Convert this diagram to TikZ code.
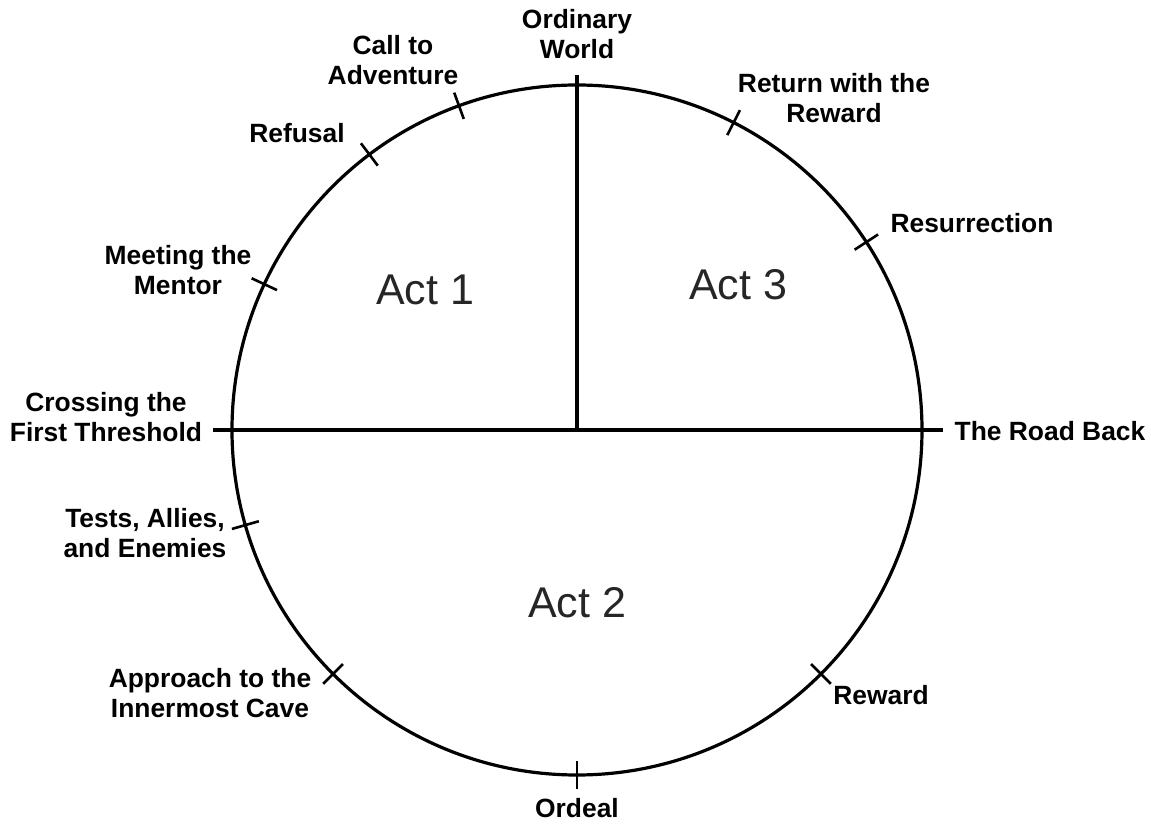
\documentclass[tikz,border=0pt]{standalone}
\usepackage{fontspec}
\setmainfont{Liberation Sans}
\usetikzlibrary{positioning}

\begin{document}
\begin{tikzpicture}[
        x=0.5pt, y=0.5pt,
        stage/.style={font=\bfseries\fontsize{13.2}{15}\selectfont, align=center, inner sep=0pt},
        act/.style={font=\fontsize{21.5}{24}\selectfont, text=black!85, inner sep=0pt},
        rim/.style={line width=1.6pt},
        stagetick/.style={line width=1.3pt}
    ]
    \useasboundingbox (-577,-394) rectangle (574,430);

    % circle and act dividers
    \coordinate (centre) at (0,0);
    \coordinate (threshold) at (-364,0);
    \coordinate (roadback) at (366,0);
    \coordinate (world) at (0,355);
    \draw[rim] (centre) circle (345);
    \draw[rim] (threshold) -- (roadback);
    \draw[rim] (centre) -- (world);

    % stage ticks
    \foreach \a in {110,127,155,196,225,270,315,33,63}
        \draw[stagetick] (\a:331) -- (\a:359);

    % acts
    \node[act] (act1) at (-152,140) {Act 1};
    \node[act] (act3) at (161,145) {Act 3};
    \node[act] (act2) at (0,-173) {Act 2};

    % stage labels
    \node[stage] (ordinary) at (0,396) {Ordinary\\World};
    \node[stage] (call) at (-184,370) {Call to\\Adventure};
    \node[stage] (refusal) at (-280,297) {Refusal};
    \node[stage] (mentor) at (-399,160) {Meeting the\\Mentor};
    \node[stage] (crossing) at (-471,13) {Crossing the\\First Threshold};
    \node[stage] (tests) at (-432,-103) {Tests, Allies,\\and Enemies};
    \node[stage] (approach) at (-367,-263) {Approach to the\\Innermost Cave};
    \node[stage] (ordeal) at (0,-378) {Ordeal};
    \node[stage] (reward) at (304,-265) {Reward};
    \node[stage] (road) at (473,-1) {The Road Back};
    \node[stage] (resurrection) at (395,207) {Resurrection};
    \node[stage] (return) at (257,332) {Return with the\\Reward};

\end{tikzpicture}
\end{document}
